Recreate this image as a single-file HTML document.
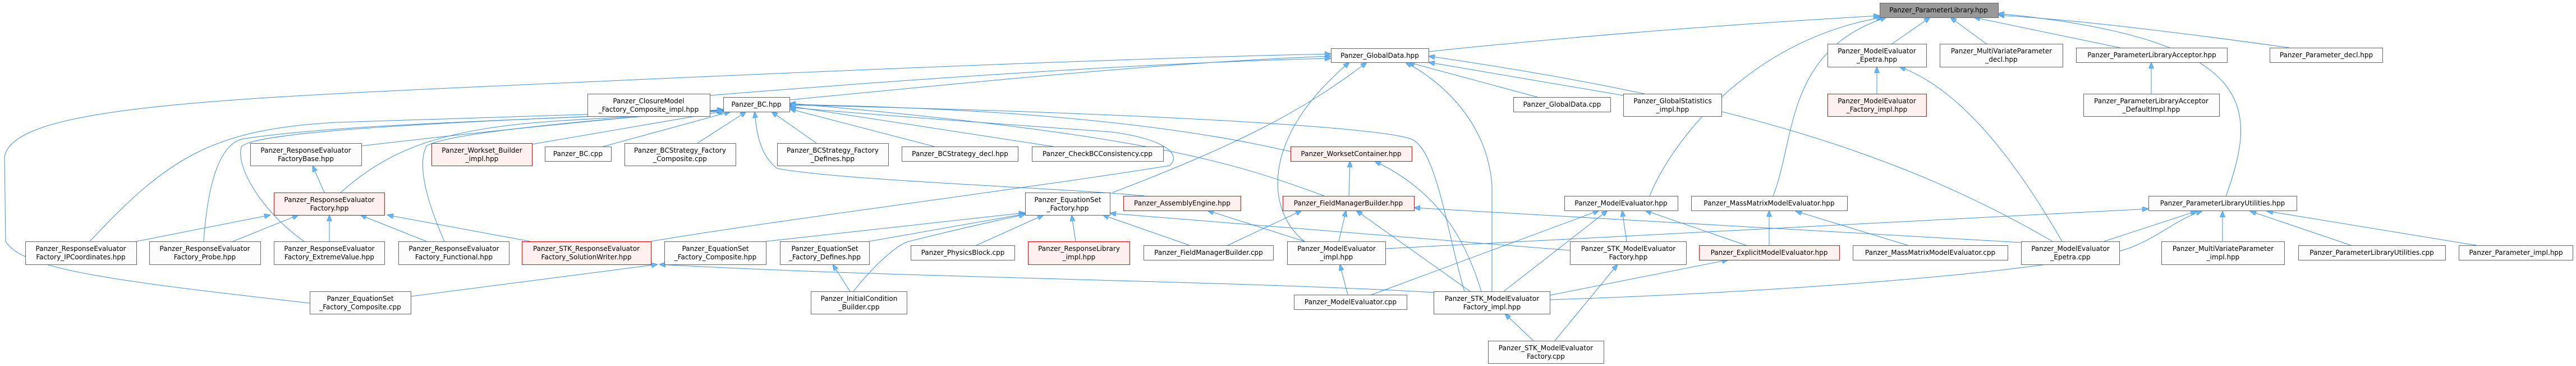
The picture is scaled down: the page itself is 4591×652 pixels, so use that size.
<!DOCTYPE html>
<html><head><meta charset="utf-8"><style>
html,body{margin:0;padding:0;background:#fff;}
svg{display:block;font-family:"DejaVu Sans","Liberation Sans",sans-serif;font-size:12px;}
.n{fill:#fcfcfc;stroke:#666;stroke-width:1}
.r{fill:#fff0f0;stroke:#f00;stroke-width:1}
.g{fill:#999;stroke:#666;stroke-width:1}
.e{fill:none;stroke:#3f8fd8;stroke-width:1}
text{fill:#000;text-anchor:middle}
</style></head><body>
<svg width="4591" height="652" viewBox="0 0 4591 652" xmlns="http://www.w3.org/2000/svg">
<defs><marker id="a" markerUnits="userSpaceOnUse" markerWidth="12" markerHeight="9" refX="11" refY="4.5" orient="auto"><path d="M0,0 L11,4.5 L0,9 z" fill="#63b8ff" stroke="#3f8fd8" stroke-width="0.8"/></marker></defs>
<g class="edges">
<!-- to ParameterLibrary -->
<path class="e" marker-end="url(#a)" d="M2546,92 C2800,65 3100,42 3350,28"/>
<path class="e" marker-end="url(#a)" d="M2940,349 C2980,250 3120,70 3355,31"/>
<path class="e" marker-end="url(#a)" d="M3160,349 C3200,250 3180,90 3362,31"/>
<path class="e" marker-end="url(#a)" d="M3372,78 L3440,31"/>
<path class="e" marker-end="url(#a)" d="M3540,78 L3476,31"/>
<path class="e" marker-end="url(#a)" d="M3778,85 L3518,31"/>
<path class="e" marker-end="url(#a)" d="M4080,85 C3900,60 3700,35 3561,27"/>
<path class="e" marker-end="url(#a)" d="M3967,350 C4020,200 4040,70 3561,24"/>
<!-- to MEE / PLA -->
<path class="e" marker-end="url(#a)" d="M3345,167 L3345,119"/>
<path class="e" marker-end="url(#a)" d="M3675,430 C3600,300 3500,160 3385,119"/>
<path class="e" marker-end="url(#a)" d="M3834,167 L3834,111"/>
<!-- to GlobalData -->
<path class="e" marker-end="url(#a)" d="M1407,178 C1800,140 2100,110 2372,100"/>
<path class="e" marker-end="url(#a)" d="M1265,170 C1700,135 2100,110 2372,104"/>
<path class="e" marker-end="url(#a)" d="M2740,173 L2510,111"/>
<path class="e" marker-end="url(#a)" d="M2893,170 L2546,111"/>
<path class="e" marker-end="url(#a)" d="M1983,343 C2200,260 2320,200 2436,111"/>
<path class="e" marker-end="url(#a)" d="M2325,430 C2260,380 2240,250 2405,111"/>
<path class="e" marker-end="url(#a)" d="M2659,519 L2659,330 C2650,210 2560,140 2505,111"/>
<path class="e" marker-end="url(#a)" d="M3658,430 C3400,280 3100,180 2546,100"/>
<path class="e" marker-end="url(#a)" d="M552,540 C200,500 40,480 10,430 L8,280 C20,200 300,180 800,157 C1500,125 2000,104 2372,96"/>
<!-- to BC.hpp -->
<path class="e" marker-end="url(#a)" d="M644,260 C900,230 1100,210 1289,195"/>
<path class="e" marker-end="url(#a)" d="M607,343 C700,260 800,228 1000,215 L1290,198"/>
<path class="e" marker-end="url(#a)" d="M160,430 C300,280 380,230 600,218 L1289,196"/>
<path class="e" marker-end="url(#a)" d="M363,430 C370,330 390,260 430,248 C600,220 1000,212 1289,197"/>
<path class="e" marker-end="url(#a)" d="M542,430 C470,380 420,300 430,262 C450,230 900,214 1289,197"/>
<path class="e" marker-end="url(#a)" d="M792,430 C770,380 740,300 760,260 C800,235 1100,210 1289,196"/>
<path class="e" marker-end="url(#a)" d="M948,257 L1292,198"/>
<path class="e" marker-end="url(#a)" d="M1075,261 L1302,199"/>
<path class="e" marker-end="url(#a)" d="M1243,255 L1330,199"/>
<path class="e" marker-end="url(#a)" d="M1455,255 L1375,199"/>
<path class="e" marker-end="url(#a)" d="M1665,261 L1407,194"/>
<path class="e" marker-end="url(#a)" d="M1877,261 L1407,189"/>
<path class="e" marker-end="url(#a)" d="M2300,270 C2000,200 1600,190 1407,186"/>
<path class="e" marker-end="url(#a)" d="M2360,349 C2200,290 2050,240 1407,184"/>
<path class="e" marker-end="url(#a)" d="M2040,349 C1900,335 1500,322 1385,300 C1352,275 1348,230 1345,199"/>
<path class="e" marker-end="url(#a)" d="M1160,430 C1400,390 1800,340 2085,295 C2110,270 2060,245 1980,235 C1700,215 1500,200 1407,191"/>
<path class="e" marker-end="url(#a)" d="M2610,519 C2580,420 2560,260 2513,247 C2450,225 2000,200 1407,187"/>
<!-- Response evaluator -->
<path class="e" marker-end="url(#a)" d="M578,343 L557,295"/>
<path class="e" marker-end="url(#a)" d="M243,430 L482,383"/>
<path class="e" marker-end="url(#a)" d="M415,430 L532,383"/>
<path class="e" marker-end="url(#a)" d="M587,430 L587,383"/>
<path class="e" marker-end="url(#a)" d="M760,430 L642,383"/>
<path class="e" marker-end="url(#a)" d="M945,430 L690,383"/>
<path class="e" marker-end="url(#a)" d="M732,528 L1172,471"/>
<path class="e" marker-end="url(#a)" d="M2555,521 C2200,500 1600,495 1175,471"/>
<!-- EquationSet_Factory -->
<path class="e" marker-end="url(#a)" d="M1365,430 L1827,379"/>
<path class="e" marker-end="url(#a)" d="M1549,430 L1827,381"/>
<path class="e" marker-end="url(#a)" d="M1740,437 L1860,383"/>
<path class="e" marker-end="url(#a)" d="M1917,430 L1910,383"/>
<path class="e" marker-end="url(#a)" d="M2120,437 L1965,383"/>
<path class="e" marker-end="url(#a)" d="M2798,446 L1978,380"/>
<path class="e" marker-end="url(#a)" d="M1521,519 C1560,470 1600,435 1620,430 C1700,410 1780,392 1827,382"/>
<path class="e" marker-end="url(#a)" d="M1515,519 L1484,471"/>
<!-- WC / FMB / AE -->
<path class="e" marker-end="url(#a)" d="M2404,349 L2406,287"/>
<path class="e" marker-end="url(#a)" d="M2640,519 C2610,420 2560,340 2450,287"/>
<path class="e" marker-end="url(#a)" d="M2325,430 L2152,375"/>
<path class="e" marker-end="url(#a)" d="M2188,437 L2320,375"/>
<path class="e" marker-end="url(#a)" d="M2386,430 L2399,375"/>
<path class="e" marker-end="url(#a)" d="M2620,519 L2417,375"/>
<path class="e" marker-end="url(#a)" d="M3602,432 L2520,370"/>
<path class="e" marker-end="url(#a)" d="M2469,443 L3829,372"/>
<!-- ModelEvaluator -->
<path class="e" marker-end="url(#a)" d="M2402,525 L2388,471"/>
<path class="e" marker-end="url(#a)" d="M2442,526 L2850,375"/>
<path class="e" marker-end="url(#a)" d="M2680,519 L2865,375"/>
<path class="e" marker-end="url(#a)" d="M2899,430 L2891,375"/>
<path class="e" marker-end="url(#a)" d="M3115,438 L2932,375"/>
<path class="e" marker-end="url(#a)" d="M2762,526 L3080,463"/>
<path class="e" marker-end="url(#a)" d="M2762,534 C3200,520 3700,480 3800,440 C3850,420 3880,390 3925,376"/>
<path class="e" marker-end="url(#a)" d="M2733,607 L2682,559"/>
<path class="e" marker-end="url(#a)" d="M2771,607 L2883,471"/>
<path class="e" marker-end="url(#a)" d="M3153,437 L3153,375"/>
<path class="e" marker-end="url(#a)" d="M3400,437 L3200,376"/>
<!-- PLU -->
<path class="e" marker-end="url(#a)" d="M3961,430 L3961,376"/>
<path class="e" marker-end="url(#a)" d="M4190,437 L4010,376"/>
<path class="e" marker-end="url(#a)" d="M4413,437 L4040,376"/>
<path class="e" marker-end="url(#a)" d="M3750,430 L3915,376"/>
</g>
<g class="nodes">
<rect class="g" x="3350.5" y="5.5" width="211" height="26"/><text x="3455" y="22">Panzer_ParameterLibrary.hpp</text>

<rect class="n" x="2372.5" y="86.5" width="174" height="25"/><text x="2459" y="103">Panzer_GlobalData.hpp</text>
<rect class="n" x="3257.5" y="78.5" width="176" height="41"/><text x="3345" y="95">Panzer_ModelEvaluator</text><text x="3345" y="110">_Epetra.hpp</text>
<rect class="n" x="3457.5" y="78.5" width="219" height="41"/><text x="3567" y="95">Panzer_MultiVariateParameter</text><text x="3567" y="110">_decl.hpp</text>
<rect class="n" x="3700.5" y="85.5" width="269" height="26"/><text x="3835" y="102">Panzer_ParameterLibraryAcceptor.hpp</text>
<rect class="n" x="4045.5" y="85.5" width="201" height="26"/><text x="4146" y="102">Panzer_Parameter_decl.hpp</text>

<rect class="n" x="1047.5" y="167.5" width="218" height="40"/><text x="1156" y="184">Panzer_ClosureModel</text><text x="1156" y="199">_Factory_Composite_impl.hpp</text>
<rect class="n" x="1289.5" y="173.5" width="118" height="26"/><text x="1348" y="190">Panzer_BC.hpp</text>
<rect class="n" x="2697.5" y="173.5" width="173" height="26"/><text x="2784" y="190">Panzer_GlobalData.cpp</text>
<rect class="n" x="2893.5" y="167.5" width="175" height="40"/><text x="2981" y="184">Panzer_GlobalStatistics</text><text x="2981" y="199">_impl.hpp</text>
<rect class="r" x="3257.5" y="167.5" width="176" height="40"/><text x="3345" y="184">Panzer_ModelEvaluator</text><text x="3345" y="199">_Factory_impl.hpp</text>
<rect class="n" x="3713.5" y="167.5" width="242" height="40"/><text x="3834" y="184">Panzer_ParameterLibraryAcceptor</text><text x="3834" y="199">_DefaultImpl.hpp</text>

<rect class="n" x="446.5" y="255.5" width="198" height="40"/><text x="545" y="272">Panzer_ResponseEvaluator</text><text x="545" y="287">FactoryBase.hpp</text>
<rect class="r" x="769.5" y="255.5" width="179" height="40"/><text x="859" y="272">Panzer_Workset_Builder</text><text x="859" y="287">_impl.hpp</text>
<rect class="n" x="971.5" y="261.5" width="118" height="26"/><text x="1030" y="278">Panzer_BC.cpp</text>
<rect class="n" x="1113.5" y="255.5" width="198" height="40"/><text x="1212" y="272">Panzer_BCStrategy_Factory</text><text x="1212" y="287">_Composite.cpp</text>
<rect class="n" x="1385.5" y="255.5" width="198" height="40"/><text x="1484" y="272">Panzer_BCStrategy_Factory</text><text x="1484" y="287">_Defines.hpp</text>
<rect class="n" x="1607.5" y="261.5" width="207" height="26"/><text x="1711" y="278">Panzer_BCStrategy_decl.hpp</text>
<rect class="n" x="1839.5" y="261.5" width="234" height="26"/><text x="1956" y="278">Panzer_CheckBCConsistency.cpp</text>
<rect class="r" x="2300.5" y="261.5" width="216" height="26"/><text x="2408" y="278">Panzer_WorksetContainer.hpp</text>

<rect class="r" x="488.5" y="343.5" width="197" height="40"/><text x="587" y="360">Panzer_ResponseEvaluator</text><text x="587" y="375">Factory.hpp</text>
<rect class="n" x="1827.5" y="343.5" width="151" height="40"/><text x="1903" y="360">Panzer_EquationSet</text><text x="1903" y="375">_Factory.hpp</text>
<rect class="r" x="2002.5" y="349.5" width="209" height="26"/><text x="2107" y="366">Panzer_AssemblyEngine.hpp</text>
<rect class="r" x="2286.5" y="349.5" width="234" height="26"/><text x="2403" y="366">Panzer_FieldManagerBuilder.hpp</text>
<rect class="n" x="2788.5" y="349.5" width="202" height="26"/><text x="2889" y="366">Panzer_ModelEvaluator.hpp</text>
<rect class="n" x="3014.5" y="349.5" width="278" height="26"/><text x="3153" y="366">Panzer_MassMatrixModelEvaluator.hpp</text>
<rect class="n" x="3829.5" y="349.5" width="264" height="26"/><text x="3961" y="366">Panzer_ParameterLibraryUtilities.hpp</text>

<rect class="n" x="45.5" y="430.5" width="198" height="41"/><text x="144" y="447">Panzer_ResponseEvaluator</text><text x="144" y="462">Factory_IPCoordinates.hpp</text>
<rect class="n" x="266.5" y="430.5" width="198" height="41"/><text x="365" y="447">Panzer_ResponseEvaluator</text><text x="365" y="462">Factory_Probe.hpp</text>
<rect class="n" x="488.5" y="430.5" width="197" height="41"/><text x="587" y="447">Panzer_ResponseEvaluator</text><text x="587" y="462">Factory_ExtremeValue.hpp</text>
<rect class="n" x="710.5" y="430.5" width="197" height="41"/><text x="809" y="447">Panzer_ResponseEvaluator</text><text x="809" y="462">Factory_Functional.hpp</text>
<rect class="r" x="930.5" y="430.5" width="230" height="41"/><text x="1045" y="447">Panzer_STK_ResponseEvaluator</text><text x="1045" y="462">Factory_SolutionWriter.hpp</text>
<rect class="n" x="1184.5" y="430.5" width="181" height="41"/><text x="1275" y="447">Panzer_EquationSet</text><text x="1275" y="462">_Factory_Composite.hpp</text>
<rect class="n" x="1390.5" y="430.5" width="159" height="41"/><text x="1470" y="447">Panzer_EquationSet</text><text x="1470" y="462">_Factory_Defines.hpp</text>
<rect class="n" x="1623.5" y="437.5" width="185" height="26"/><text x="1716" y="454">Panzer_PhysicsBlock.cpp</text>
<rect class="r" x="1832.5" y="430.5" width="181" height="41"/><text x="1923" y="447">Panzer_ResponseLibrary</text><text x="1923" y="462">_impl.hpp</text>
<rect class="n" x="2038.5" y="437.5" width="231" height="26"/><text x="2154" y="454">Panzer_FieldManagerBuilder.cpp</text>
<rect class="n" x="2294.5" y="430.5" width="175" height="41"/><text x="2382" y="447">Panzer_ModelEvaluator</text><text x="2382" y="462">_impl.hpp</text>
<rect class="n" x="2798.5" y="430.5" width="207" height="41"/><text x="2902" y="447">Panzer_STK_ModelEvaluator</text><text x="2902" y="462">Factory.hpp</text>
<rect class="r" x="3028.5" y="437.5" width="250" height="26"/><text x="3153" y="454">Panzer_ExplicitModelEvaluator.hpp</text>
<rect class="n" x="3302.5" y="437.5" width="276" height="26"/><text x="3440" y="454">Panzer_MassMatrixModelEvaluator.cpp</text>
<rect class="n" x="3602.5" y="430.5" width="175" height="41"/><text x="3690" y="447">Panzer_ModelEvaluator</text><text x="3690" y="462">_Epetra.cpp</text>
<rect class="n" x="3852.5" y="430.5" width="219" height="41"/><text x="3962" y="447">Panzer_MultiVariateParameter</text><text x="3962" y="462">_impl.hpp</text>
<rect class="n" x="4096.5" y="437.5" width="262" height="26"/><text x="4227" y="454">Panzer_ParameterLibraryUtilities.cpp</text>
<rect class="n" x="4382.5" y="437.5" width="203" height="26"/><text x="4484" y="454">Panzer_Parameter_impl.hpp</text>

<rect class="n" x="552.5" y="519.5" width="180" height="40"/><text x="642" y="536">Panzer_EquationSet</text><text x="642" y="551">_Factory_Composite.cpp</text>
<rect class="n" x="1445.5" y="519.5" width="171" height="40"/><text x="1531" y="536">Panzer_InitialCondition</text><text x="1531" y="551">_Builder.cpp</text>
<rect class="n" x="2306.5" y="525.5" width="201" height="26"/><text x="2407" y="542">Panzer_ModelEvaluator.cpp</text>
<rect class="n" x="2555.5" y="519.5" width="207" height="40"/><text x="2659" y="536">Panzer_STK_ModelEvaluator</text><text x="2659" y="551">Factory_impl.hpp</text>

<rect class="n" x="2652.5" y="607.5" width="206" height="40"/><text x="2755" y="624">Panzer_STK_ModelEvaluator</text><text x="2755" y="639">Factory.cpp</text>
</g>
</svg>
</body></html>
